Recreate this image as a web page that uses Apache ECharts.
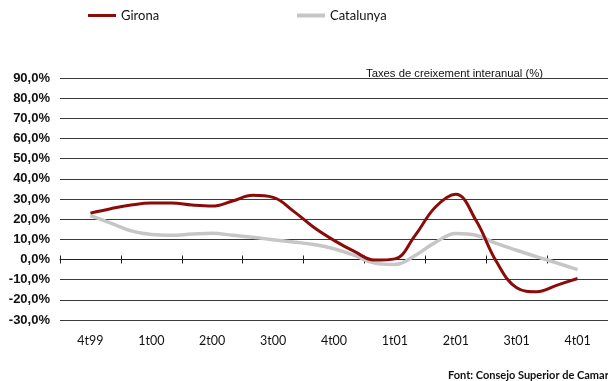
<!DOCTYPE html>
<html>
<head>
<meta charset="utf-8">
<script src="https://cdn.jsdelivr.net/npm/echarts@6/dist/echarts.min.js"></script>
<style>
  html, body { margin: 0; padding: 0; background: #fff; }
  #chart { width: 608px; height: 381px; }
</style>
</head>
<body>
<div id="chart"></div>
<script>
// Quarter labels on the horizontal axis
const quarters = ['4t99', '1t00', '2t00', '3t00', '4t00', '1t01', '2t01', '3t01', '4t01'];

// Monthly year-on-year growth rates (%), three steps per quarter
const girona = [
  23.0, 25.2, 27.0, 28.0, 28.0, 27.0, 26.5, 29.0, 31.8,
  30.8, 24.0, 16.0, 9.5, 4.0, -0.3, 0.3, 12.0, 26.0,
  32.3, 19.3, -1.0, -14.0, -16.0, -12.7, -9.4
];
const catalunya = [
  21.8, 18.0, 14.2, 12.4, 12.0, 12.6, 13.0, 12.0, 11.0,
  9.8, 8.7, 7.4, 5.3, 2.0, -1.8, -2.5, 2.0, 8.5,
  12.9, 12.0, 8.0, 4.6, 1.3, -1.8, -5.0
];

// Value-axis ticks
const yMin = -30, yMax = 90, yStep = 10;

const stepsPerQuarter = 3;
const toPairs = arr => arr.map((v, k) => [k / stepsPerQuarter, v]);

const baseFont = 'Lato, "Noto Sans", sans-serif';

const chart = echarts.init(document.getElementById('chart'), null, { renderer: 'canvas' });

const catAxis = (extra) => Object.assign({
  type: 'category',
  data: quarters,
  gridIndex: 0,
  position: 'bottom',
  boundaryGap: true,
  splitLine: { show: false }
}, extra);

chart.setOption({
  animation: false,
  backgroundColor: '#ffffff',
  title: [
    {
      text: 'Taxes de creixement interanual (%)',
      left: 361, top: 63,
      textStyle: { fontFamily: '"Liberation Sans", Arial, sans-serif', fontSize: 11.3, fontWeight: 'normal', color: '#111' }
    },
    {
      text: 'Font: Consejo Superior de Camaras',
      left: 443, top: 365,
      textStyle: { fontFamily: baseFont, fontSize: 11, fontWeight: 'bold', color: '#111' }
    }
  ],
  legend: [
    {
      data: ['Girona'], left: 88, top: 9, padding: 0,
      icon: 'rect', itemWidth: 28, itemHeight: 3,
      textStyle: { fontFamily: baseFont, fontSize: 13, color: '#111' }
    },
    {
      data: ['Catalunya'], left: 297, top: 9, padding: 0,
      icon: 'rect', itemWidth: 28, itemHeight: 4,
      textStyle: { fontFamily: baseFont, fontSize: 13, color: '#111' }
    }
  ],
  grid: { left: 60, right: -7, top: 78, bottom: 61, containLabel: false },
  xAxis: [
    // hidden numeric axis that positions the monthly points between quarter centres
    { type: 'value', min: -0.5, max: quarters.length - 0.5, show: false, gridIndex: 0 },
    // quarter labels along the bottom
    catAxis({
      axisLine: { show: false, onZero: false },
      axisTick: { show: false },
      axisLabel: { margin: 14, fontFamily: baseFont, fontSize: 12.5, color: '#111' }
    }),
    // zero line with ticks below it
    catAxis({
      axisLine: { show: true, onZero: true, onZeroAxisIndex: 0, lineStyle: { color: '#222', width: 1 } },
      axisTick: { show: true, length: 4, inside: false, lineStyle: { color: '#222' } },
      axisLabel: { show: false }
    }),
    // ticks above the zero line
    catAxis({
      axisLine: { show: false, onZero: true, onZeroAxisIndex: 0 },
      axisTick: { show: true, length: 4, inside: true, lineStyle: { color: '#222' } },
      axisLabel: { show: false }
    })
  ],
  yAxis: {
    type: 'value',
    min: yMin, max: yMax, interval: yStep,
    axisLine: { show: false },
    axisTick: { show: false },
    splitLine: { show: true, lineStyle: { color: '#3a3a3a', width: 1 } },
    axisLabel: {
      margin: 10,
      fontFamily: '"Liberation Sans", Arial, sans-serif',
      fontSize: 13, fontWeight: 'bold', color: '#111',
      formatter: v => (v === 0 ? '0,0%' : v.toFixed(1).replace('.', ',') + '%')
    }
  },
  series: [
    {
      name: 'Catalunya', type: 'line', xAxisIndex: 0,
      data: toPairs(catalunya),
      smooth: 0.4, symbol: 'none',
      lineStyle: { color: '#c6c6c6', width: 3.5 },
      itemStyle: { color: '#c6c6c6' },
      z: 3
    },
    {
      name: 'Girona', type: 'line', xAxisIndex: 0,
      data: toPairs(girona),
      smooth: 0.4, symbol: 'none',
      lineStyle: { color: '#8b0a0a', width: 3 },
      itemStyle: { color: '#8b0a0a' },
      z: 4
    }
  ]
});
</script>
</body>
</html>
